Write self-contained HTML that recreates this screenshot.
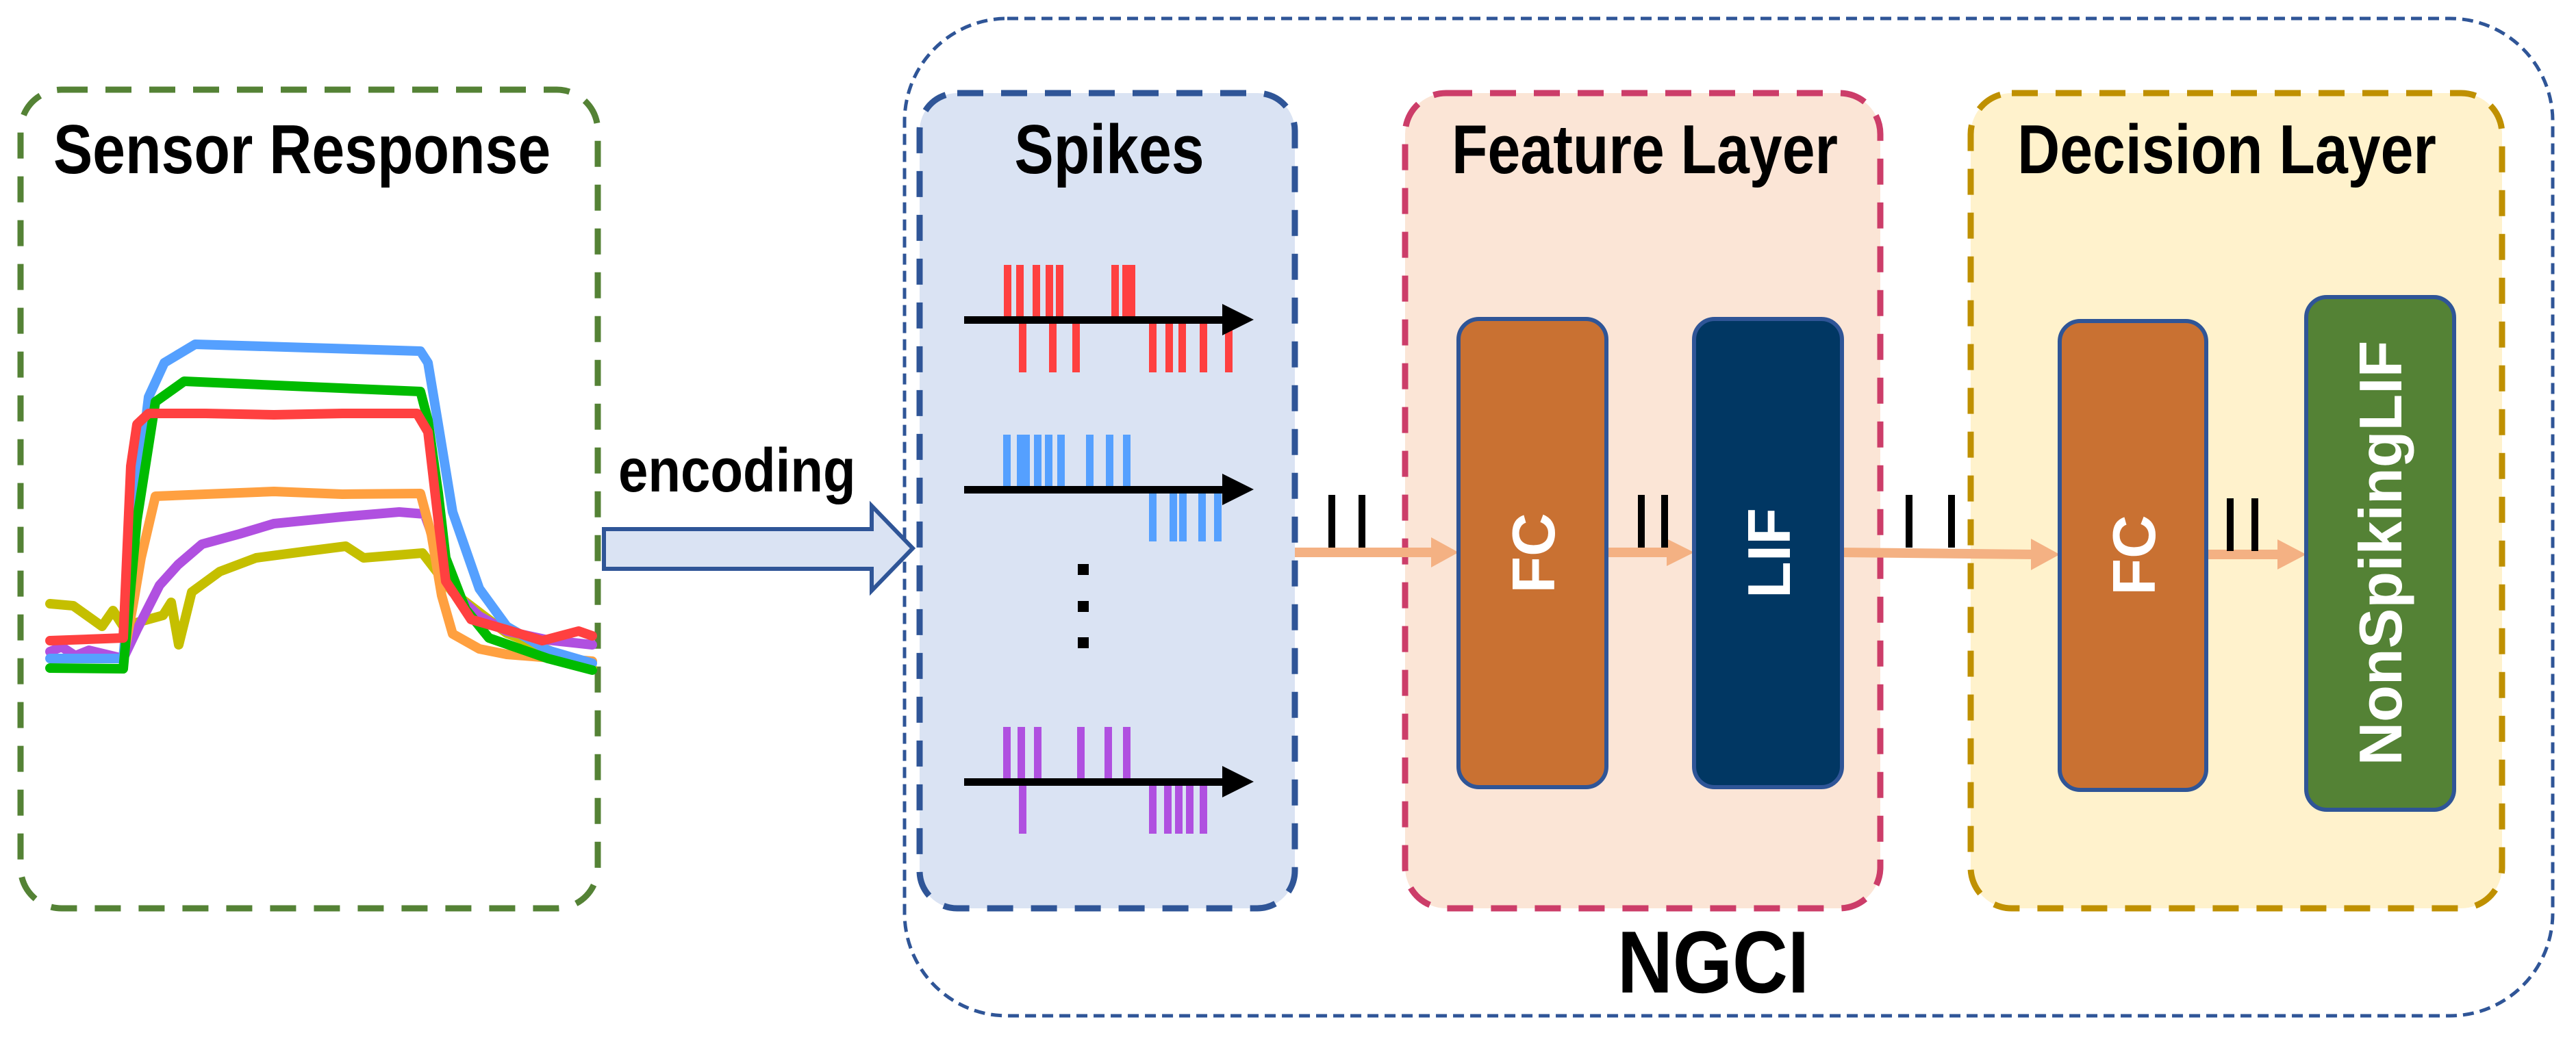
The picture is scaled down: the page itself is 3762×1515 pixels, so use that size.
<!DOCTYPE html>
<html><head><meta charset="utf-8"><style>
html,body{margin:0;padding:0;background:#fff}
svg{display:block}
text{font-family:"Liberation Sans",Arial,sans-serif;font-weight:bold}
</style></head><body>
<svg width="3762" height="1515" viewBox="0 0 3762 1515" xmlns="http://www.w3.org/2000/svg">
<rect x="1321" y="27" width="2407" height="1457" rx="150" fill="none" stroke="#2f5597" stroke-width="5" stroke-dasharray="16 9"/>
<rect x="30" y="131" width="843" height="1196" rx="60" fill="none" stroke="#548235" stroke-width="9" stroke-dasharray="38 26"/>
<rect x="1343" y="136" width="548" height="1191" rx="55" fill="#dae3f3" stroke="#2f5597" stroke-width="9" stroke-dasharray="38 26"/>
<rect x="2052" y="136" width="694" height="1191" rx="60" fill="#fbe5d6" stroke="#cc3d69" stroke-width="9" stroke-dasharray="38 26"/>
<rect x="2878" y="136" width="776" height="1191" rx="60" fill="#fff2cc" stroke="#bf9000" stroke-width="9" stroke-dasharray="38 26"/>

<g font-size="86" text-anchor="middle">
<text transform="translate(441 253) scale(1,1.18)">Sensor Response</text>
<text transform="translate(1620 253) scale(1,1.18)">Spikes</text>
<text transform="translate(2402 253) scale(1,1.18)">Feature Layer</text>
<text transform="translate(3252 253) scale(1,1.18)">Decision Layer</text>
<text transform="translate(2502 1450) scale(1,1.15)" font-size="112">NGCI</text>
</g>
<text transform="translate(903 718) scale(1,1.15)" font-size="78">encoding</text>

<path d="M882 773 H1273 V739 L1333 801 L1273 863 V831 H882 Z" fill="#dae3f3" stroke="#2f5597" stroke-width="6"/>

<g fill="none" stroke-width="14" stroke-linejoin="round" stroke-linecap="round">
<path stroke="#c5bf00" d="M73 882 L107 885 L149 915 L165 892 L180 915 L238 899 L250 880 L261 942 L280 865 L321 835 L374 815 L450 805 L505 798 L531 815 L617 808 L661 865 L740 925 L865 976"/>
<path stroke="#b050e0" d="M73 952 L90 945 L110 958 L130 950 L180 962 L200 920 L233 855 L260 825 L295 795 L350 780 L400 765 L500 755 L583 748 L620 751 L661 865 L700 900 L740 922 L800 935 L865 942"/>
<path stroke="#ffa040" d="M180 962 L195 880 L206 815 L227 725 L300 722 L400 718 L500 722 L614 721 L630 781 L645 870 L661 926 L700 948 L740 956 L865 966"/>
<path stroke="#55a0ff" d="M73 962 L180 962 L200 720 L217 580 L240 530 L285 503 L450 508 L614 513 L625 530 L640 620 L661 748 L700 860 L740 915 L800 950 L865 969"/>
<path stroke="#00bb00" d="M73 976 L180 977 L200 760 L227 587 L269 557 L450 565 L614 572 L625 614 L640 720 L651 815 L680 890 L714 932 L800 962 L865 979"/>
<path stroke="#ff4040" d="M73 936 L180 932 L191 681 L200 620 L217 604 L300 604 L400 606 L500 604 L609 604 L625 631 L640 760 L651 849 L688 905 L740 920 L792 936 L845 922 L865 929"/>
</g>

<g fill="#ff4040">
<rect x="1466" y="387" width="11" height="75"/><rect x="1484" y="387" width="11" height="75"/><rect x="1508" y="387" width="11" height="75"/><rect x="1527" y="387" width="11" height="75"/><rect x="1542" y="387" width="11" height="75"/><rect x="1623" y="387" width="11" height="75"/><rect x="1639" y="387" width="19" height="75"/>
<rect x="1488" y="472" width="11" height="72"/><rect x="1532" y="472" width="11" height="72"/><rect x="1566" y="472" width="11" height="72"/><rect x="1678" y="472" width="11" height="72"/><rect x="1702" y="472" width="11" height="72"/><rect x="1721" y="472" width="11" height="72"/><rect x="1752" y="472" width="11" height="72"/><rect x="1789" y="472" width="11" height="72"/>
</g>
<g fill="#55a0ff">
<rect x="1465" y="635" width="11" height="75"/><rect x="1485" y="635" width="11" height="75"/><rect x="1493" y="635" width="11" height="75"/><rect x="1510" y="635" width="11" height="75"/><rect x="1526" y="635" width="11" height="75"/><rect x="1544" y="635" width="11" height="75"/><rect x="1586" y="635" width="11" height="75"/><rect x="1615" y="635" width="11" height="75"/><rect x="1640" y="635" width="11" height="75"/>
<rect x="1678" y="721" width="11" height="70"/><rect x="1708" y="721" width="11" height="70"/><rect x="1722" y="721" width="11" height="70"/><rect x="1750" y="721" width="11" height="70"/><rect x="1773" y="721" width="11" height="70"/>
</g>
<g fill="#b050e0">
<rect x="1465" y="1062" width="11" height="75"/><rect x="1486" y="1062" width="11" height="75"/><rect x="1510" y="1062" width="11" height="75"/><rect x="1573" y="1062" width="11" height="75"/><rect x="1613" y="1062" width="11" height="75"/><rect x="1640" y="1062" width="11" height="75"/>
<rect x="1488" y="1148" width="11" height="70"/><rect x="1678" y="1148" width="11" height="70"/><rect x="1700" y="1148" width="11" height="70"/><rect x="1716" y="1148" width="11" height="70"/><rect x="1732" y="1148" width="11" height="70"/><rect x="1752" y="1148" width="11" height="70"/>
</g>
<g fill="#000">
<rect x="1408" y="462" width="380" height="11"/><path d="M1785 444 L1831 467 L1785 490 Z"/>
<rect x="1408" y="710" width="380" height="11"/><path d="M1785 692 L1831 715 L1785 738 Z"/>
<rect x="1408" y="1137" width="380" height="11"/><path d="M1785 1119 L1831 1142 L1785 1165 Z"/>
<rect x="1574" y="824" width="16" height="16"/><rect x="1574" y="878" width="16" height="16"/><rect x="1574" y="931" width="16" height="16"/>
</g>

<g stroke="#f4b183" stroke-width="14" fill="#f4b183">
<line x1="1891" y1="807" x2="2095" y2="807"/><path d="M2090 785 L2130 807 L2090 829 Z" stroke="none"/>
<line x1="2346" y1="807" x2="2440" y2="807"/><path d="M2434 787 L2474 807 L2434 827 Z" stroke="none"/>
<line x1="2690" y1="807" x2="2970" y2="810"/><path d="M2966 787 L3008 810 L2966 833 Z" stroke="none"/>
<line x1="3222" y1="810" x2="3330" y2="810"/><path d="M3326 788 L3368 810 L3326 832 Z" stroke="none"/>
</g>
<g fill="#000">
<rect x="1940" y="723" width="10" height="77"/><rect x="1984" y="723" width="10" height="77"/>
<rect x="2392" y="723" width="10" height="77"/><rect x="2426" y="723" width="10" height="77"/>
<rect x="2783" y="723" width="10" height="77"/><rect x="2845" y="723" width="10" height="77"/>
<rect x="3252" y="728" width="10" height="77"/><rect x="3288" y="728" width="10" height="77"/>
</g>

<rect x="2130" y="466" width="216" height="684" rx="30" fill="#c97132" stroke="#2f5597" stroke-width="6"/>
<rect x="2474" y="466" width="216" height="684" rx="30" fill="#013763" stroke="#2f5597" stroke-width="6"/>
<rect x="3008" y="469" width="214" height="685" rx="30" fill="#c97132" stroke="#2f5597" stroke-width="6"/>
<rect x="3368" y="434" width="216" height="749" rx="30" fill="#548235" stroke="#2f5597" stroke-width="6"/>
<g fill="#fff" font-size="88" text-anchor="middle">
<text transform="translate(2270 808) rotate(-90)">FC</text>
<text transform="translate(2614 808) rotate(-90)">LIF</text>
<text transform="translate(3147 811) rotate(-90)">FC</text>
<text transform="translate(3507 808) rotate(-90)">NonSpikingLIF</text>
</g>
</svg>
</body></html>
